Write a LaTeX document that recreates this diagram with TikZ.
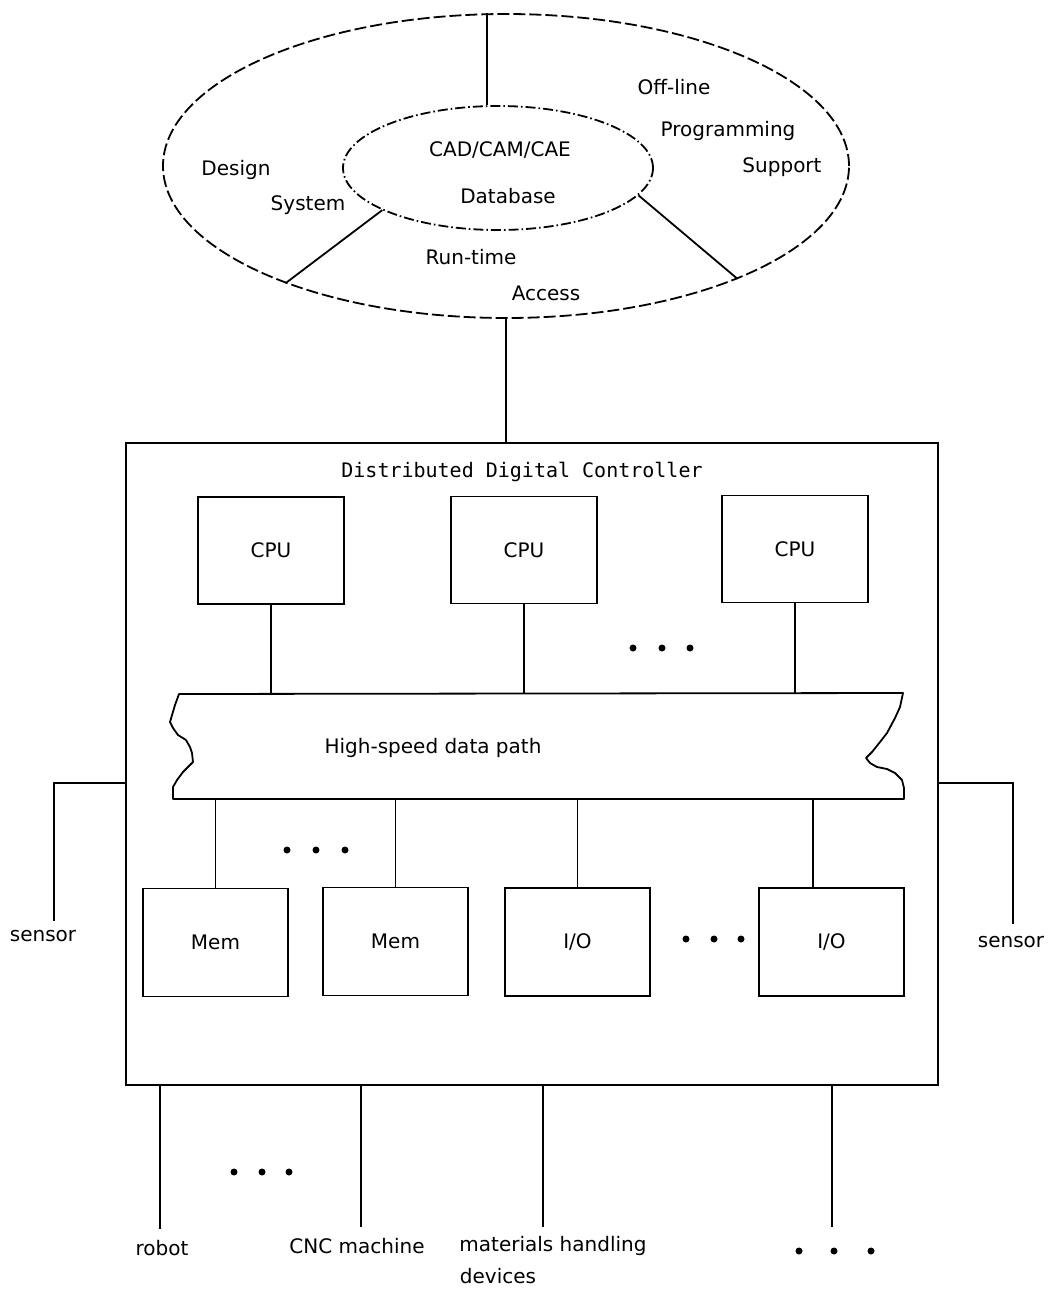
\documentclass[tikz,border=0pt]{standalone}
\usepackage{fontspec}
\setmainfont{DejaVu Sans}
\newfontfamily\monofam{DejaVu Sans Mono}
\usetikzlibrary{shapes.geometric}
\begin{document}
\begin{tikzpicture}[x=0.5pt,y=-0.5pt, line width=0.9pt,
  box/.style={draw, minimum width=73pt, minimum height=53.5pt, inner sep=0pt, font=\fontsize{10}{12}\selectfont},
  lbl/.style={inner sep=1pt, font=\fontsize{10}{12}\selectfont},
  dotn/.style={circle, fill, inner sep=0pt, minimum size=3.5pt},
  outerdash/.style={dash pattern=on 6pt off 2pt},
  innerdash/.style={dash pattern=on 5pt off 1.5pt on 0.8pt off 1.5pt},
]
\useasboundingbox (0,0) rectangle (1050,1290);

% ---- top ellipses
\node[ellipse, draw, outerdash, minimum width=343pt, minimum height=152pt, inner sep=0pt] (outer) at (506,166) {};
\node[ellipse, draw, innerdash, minimum width=155pt, minimum height=62pt, inner sep=0pt] (inner) at (498,168) {};
\draw (inner.100) -- (inner.100 |- outer.north);
\draw (inner.200) -- (outer.208.6);
\draw (inner.349) -- (outer.334);

\node[lbl] (design) at (236,170) {Design};
\node[lbl] (system) at (308,205) {System};
\node[lbl] (cad) at (500,150) {CAD/CAM/CAE};
\node[lbl] (db) at (508,196) {Database};
\node[lbl] (offline) at (674,87) {Off-line};
\node[lbl] (prog) at (728,131) {Programming};
\node[lbl] (support) at (782,167) {Support};
\node[lbl] (runtime) at (471,257) {Run-time};
\node[lbl] (access) at (546,293) {Access};

% ---- controller box
\node[draw, minimum width=406pt, minimum height=321pt, inner sep=0pt] (ctrl) at (532,764) {};
\draw (outer.south) -- (outer.south |- ctrl.north);
\node[inner sep=1pt, font=\monofam\fontsize{10}{12}\selectfont] (title) at (522,472) {Distributed Digital Controller};

\node[box] (cpu1) at (271,550.5) {CPU};
\node[box] (cpu2) at (524,550) {CPU};
\node[box] (cpu3) at (795,549) {CPU};

% ---- data path
\coordinate (dpT) at (0,693);
\coordinate (dpB) at (0,799);
\draw[line join=round] (179,694) -- (903,693) -- (900,707) -- (895,718) -- (887,733) -- (880,742) -- (872,752) -- (866,758) -- (870,763) -- (877,767) -- (887,769) -- (895,773) -- (902,780) -- (904,788) -- (904,799) -- (173,799) -- (173,787) -- (177,780) -- (183,772) -- (190,765) -- (193,762) -- (192,753) -- (190,747) -- (186,740) -- (178,735) -- (173,728) -- (170,722) -- (175,705) -- cycle;
\node[lbl] (dptext) at (433,748) {High-speed data path};

\draw (cpu1.south) -- (cpu1.south |- dpT);
\draw (cpu2.south) -- (cpu2.south |- dpT);
\draw (cpu3.south) -- (cpu3.south |- dpT);

\node[box, minimum width=72.5pt, minimum height=54pt] (mem1) at (215.5,942.5) {Mem};
\node[box, minimum width=72.5pt, minimum height=54pt] (mem2) at (395.5,941.5) {Mem};
\node[box, minimum width=72.5pt, minimum height=54pt] (io1) at (577.5,942) {I/O};
\node[box, minimum width=72.5pt, minimum height=54pt] (io2) at (831.5,942) {I/O};

\draw (mem1.north) -- (mem1.north |- dpB);
\draw (mem2.north) -- (mem2.north |- dpB);
\draw (io1.north) -- (io1.north |- dpB);
\coordinate (io2top) at (813,888);
\draw (io2top) -- (io2top |- dpB);

% ---- dots
\foreach \x [count=\i] in {633,662,690} {\node[dotn] (dA\i) at (\x,648) {};}
\foreach \x [count=\i] in {287,316,345} {\node[dotn] (dB\i) at (\x,850) {};}
\foreach \x [count=\i] in {686,714,741} {\node[dotn] (dC\i) at (\x,939) {};}
\foreach \x [count=\i] in {234,262,289} {\node[dotn] (dD\i) at (\x,1172) {};}
\foreach \x [count=\i] in {799,834,871} {\node[dotn] (dE\i) at (\x,1251) {};}

% ---- sensors
\coordinate (sLc) at (54,783);
\coordinate (sLe) at (54,921);
\coordinate (sRc) at (1013,783);
\coordinate (sRe) at (1013,924);
\draw (ctrl.west |- sLc) -- (sLc) -- (sLe);
\draw (ctrl.east |- sRc) -- (sRc) -- (sRe);
\node[lbl] (sensL) at (43,936) {sensor};
\node[lbl] (sensR) at (1011,942) {sensor};

% ---- bottom devices
\coordinate (b1) at (160,1229);
\coordinate (b2) at (361,1227);
\coordinate (b3) at (543,1227);
\coordinate (b4) at (832,1227);
\draw (ctrl.south -| b1) -- (b1);
\draw (ctrl.south -| b2) -- (b2);
\draw (ctrl.south -| b3) -- (b3);
\draw (ctrl.south -| b4) -- (b4);
\node[lbl] (robot) at (162,1248) {robot};
\node[lbl] (cnc) at (357,1246) {CNC machine};
\node[lbl] (mat) at (553,1246) {materials handling};
\node[lbl] (dev) at (498,1276) {devices};
\end{tikzpicture}
\end{document}
